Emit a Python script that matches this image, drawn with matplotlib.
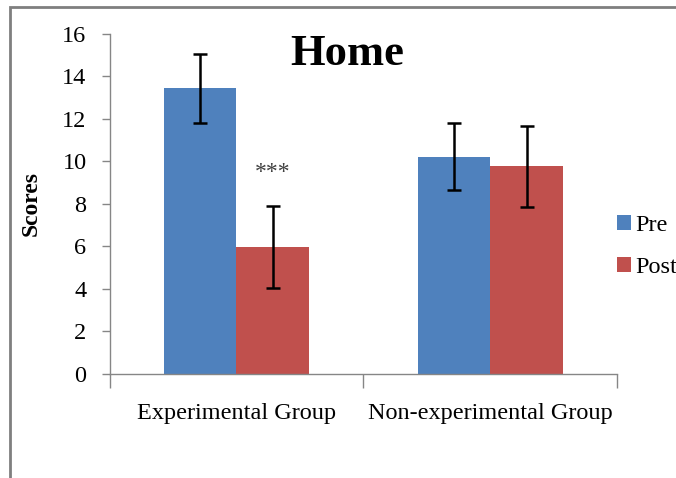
import numpy as np
import matplotlib
matplotlib.use("Agg")
from matplotlib import pyplot as plt
from matplotlib.patches import Rectangle

groups = ["Experimental Group", "Non-experimental Group"]
series = ["Pre", "Post"]
pre_scores = [13.45, 10.23]
post_scores = [5.98, 9.77]
pre_err = [1.62, 1.58]
post_err = [1.93, 1.90]
y_ticks = [0, 2, 4, 6, 8, 10, 12, 14, 16]

plt.rcParams['font.family'] = ['Liberation Serif', 'DejaVu Serif']

fig = plt.figure(figsize=(6.76, 4.78), dpi=100)
ax = fig.add_axes([0.162, 0.2176, 0.751, 0.7113])

x = np.arange(len(groups))
w = 1 / 3.5
blue = '#4F81BD'
red = '#C0504D'
ekw = dict(ecolor='black', elinewidth=1.8, capsize=5, capthick=1.8)
ax.bar(x - w / 2, pre_scores, w, color=blue, label=series[0],
       yerr=pre_err, error_kw=ekw, zorder=2)
ax.bar(x + w / 2, post_scores, w, color=red, label=series[1],
       yerr=post_err, error_kw=ekw, zorder=2)

# significance mark over the experimental post bar
ax.text(x[0] + w / 2, 9.5, '***', ha='center', va='center',
        fontsize=17, color='#404040')

ax.set_xlim(-0.5, 1.5)
ax.set_ylim(0, 16)
ax.set_yticks(y_ticks)
ax.set_xticks([-0.5, 0.5, 1.5])
ax.set_xticklabels([])
ax.set_xticks(x, minor=True)
ax.set_xticklabels(groups, minor=True, fontsize=17.5)
ax.tick_params(axis='x', which='minor', length=0, pad=21)
ax.tick_params(axis='x', which='major', length=10, color='#868686',
               width=1)
ax.tick_params(axis='y', labelsize=17.5, length=6, color='#868686',
               width=1, pad=10.5)
for s in ['top', 'right']:
    ax.spines[s].set_visible(False)
for s in ['left', 'bottom']:
    ax.spines[s].set_color('#868686')
    ax.spines[s].set_linewidth(1)

ax.set_ylabel('Scores', fontsize=17, fontweight='bold', labelpad=15)
fig.text(0.513, 0.888, 'Home', ha='center', va='center',
         fontsize=32, fontweight='bold')

leg = ax.legend(loc='center left', bbox_to_anchor=(1.0, 0.375),
                frameon=False, fontsize=17.5, handlelength=0.55,
                handleheight=0.55, handletextpad=0.2, labelspacing=0.85,
                borderaxespad=0, borderpad=0)

# outer chart frame, cropped at right and bottom
fig.patches.append(Rectangle((10 / 676, -0.1), 1.2, 1 - 7 / 478 + 0.1,
                             transform=fig.transFigure, fill=False,
                             edgecolor='#7f7f7f', linewidth=2))

fig.savefig('out.png', dpi=100)
